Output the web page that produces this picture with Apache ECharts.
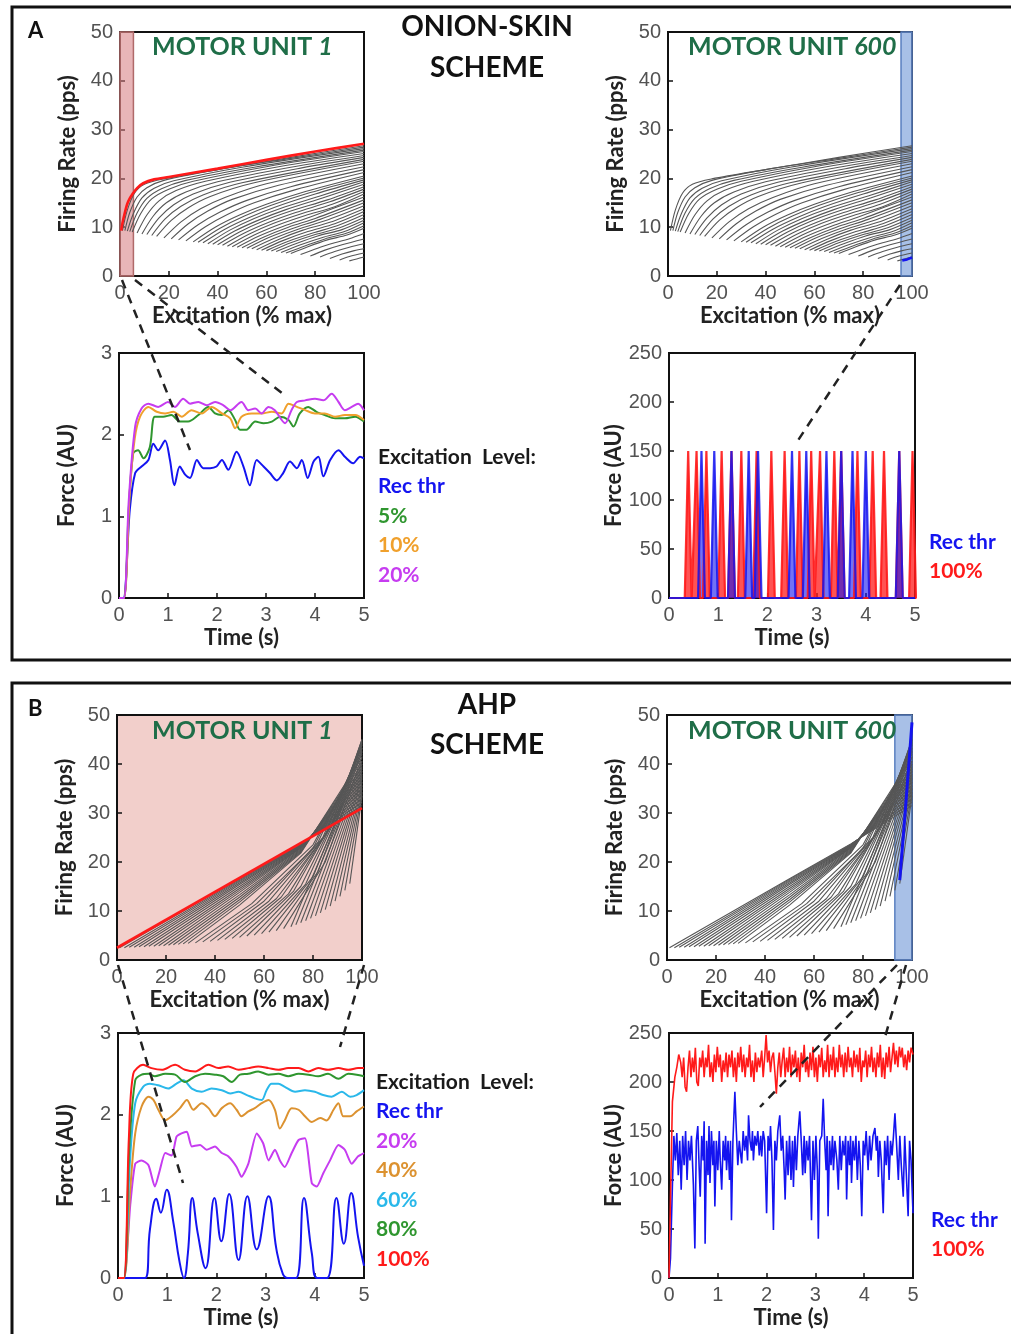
<!DOCTYPE html>
<html>
<head>
<meta charset="utf-8">
<script src="https://cdn.jsdelivr.net/npm/echarts@6/dist/echarts.min.js"></script>
<style>
  html, body { margin: 0; background: #fff; }
  #chart { width: 1011px; height: 1334px; }
</style>
</head>
<body>
<div id="chart"></div>
<script>
// ---- firing-rate families, [excitation %, pps] ----
// onion-skin scheme (panel A), one curve per recruited unit
const osCurves = [
  [[1,9.3],[3,13.5],[6,17],[10,18.8],[18,19.9],[40,21.8],[70,24.3],[100,26.7]],
  [[2,9.3],[4,13],[7,16.2],[11,18.1],[18,19.6],[40,21.8],[70,24.1],[100,26.4]],
  [[3,9.2],[5.5,12.8],[9,16],[14,18],[22,19.5],[50,22.3],[100,26.1]],
  [[4,9.1],[7,12.9],[11,15.9],[17,17.9],[27,19.6],[55,22.3],[100,25.8]],
  [[5,9],[8.5,12.8],[13,15.8],[20,17.8],[30,19.4],[60,22.4],[100,25.5]],
  [[7,8.8],[11,12.5],[16,15.4],[23,17.5],[35,19.4],[65,22.4],[100,25.1]],
  [[9,8.6],[13.5,12.2],[19,15],[27,17.2],[40,19.3],[70,22.3],[100,24.7]],
  [[11,8.5],[16,11.9],[22,14.6],[30,16.8],[45,19.2],[75,22.2],[100,24.3]],
  [[13,8.3],[18.5,11.7],[25,14.3],[34,16.6],[50,19.1],[100,23.9]],
  [[15,8.1],[21,11.4],[28,14],[37,16.3],[55,19.1],[100,23.5]],
  [[18,7.8],[25,11.1],[33,13.8],[43,16.1],[60,18.9],[100,23]],
  [[21,7.6],[28,10.7],[36,13.3],[46,15.7],[65,18.6],[100,22.4]],
  [[24,7.4],[32,10.5],[41,13.1],[52,15.5],[70,18.3],[100,21.8]],
  [[27,7.2],[35,10.1],[44,12.6],[55,15],[72,17.7],[100,21.2]],
  [[30,7],[39,10],[49,12.5],[60,14.7],[76,17.3],[100,20.5]],
  [[32,6.9],[41,9.8],[51,12.3],[62,14.5],[78,17.1],[100,20.1]],
  [[34,6.8],[43,9.6],[53,12],[64,14.2],[80,16.8],[100,19.7]],
  [[36,6.6],[45,9.4],[55,11.8],[66,13.9],[82,16.4],[100,19.3]],
  [[38,6.5],[47,9.2],[57,11.5],[68,13.6],[83,16],[100,18.8]],
  [[40,6.4],[49,9],[59,11.3],[70,13.3],[85,15.6],[100,18.3]],
  [[42,6.3],[51,8.8],[61,11],[72,13],[86,15.2],[100,17.8]],
  [[44,6.1],[53,8.6],[63,10.8],[74,12.7],[87,14.7],[100,17.3]],
  [[46,6],[55,8.4],[65,10.5],[76,12.4],[88,14.2],[100,16.8]],
  [[48,5.9],[57,8.2],[67,10.2],[78,12.1],[100,16.2]],
  [[50,5.8],[59,8],[69,10],[80,11.8],[100,15.6]],
  [[52,5.7],[61,7.9],[71,9.8],[82,11.6],[100,15]],
  [[54,5.6],[63,7.7],[73,9.6],[84,11.3],[100,14.4]],
  [[56,5.4],[65,7.5],[75,9.4],[86,11],[100,13.8]],
  [[58,5.3],[67,7.3],[77,9.1],[88,10.7],[100,13.2]],
  [[60,5.2],[69,7.1],[79,8.8],[89,10.3],[100,12.6]],
  [[62,5.1],[70,6.8],[80,8.5],[90,9.9],[100,12]],
  [[64,5],[72,6.6],[81,8.2],[91,9.5],[100,11.4]],
  [[66,4.8],[74,6.4],[83,7.9],[92,9.1],[100,10.9]],
  [[68,4.7],[76,6.2],[84,7.6],[93,8.8],[100,10.3]],
  [[70,4.6],[77,6],[85,7.4],[93,8.4],[100,9.8]],
  [[74,4.4],[81,5.7],[88,6.8],[95,7.8],[100,8.7]],
  [[78,4.1],[84,5.3],[91,6.4],[100,7.6]],
  [[82,3.9],[88,5],[94,5.9],[100,6.6]],
  [[86,3.6],[91,4.5],[96,5.2],[100,5.6]],
  [[90,3.3],[94,4],[100,4.7]],
  [[94,3.1],[97,3.5],[100,3.9]]
];
const osMU1 = [[0.5,9.3],[1,10.8],[2,13],[3,14.8],[4,15.9],[5,16.7],[7,18],[9.5,19],[14,19.8],[20,20.3],[40,22],[60,23.8],[80,25.5],[100,27.1]];
const osMU600 = [[96,3.2],[98,3.4],[100,3.8]];

// AHP scheme (panel B)
const ahpCurves = [
  [[1,2.5],[50,16.6],[75,23.7],[100,31.5]],
  [[3,2.5],[50,16.4],[75,23.6],[100,32.2]],
  [[5,2.6],[50,16.2],[75,23.5],[100,32.9]],
  [[7,2.6],[50,16],[75,23.4],[100,33.6]],
  [[9,2.7],[50,15.7],[75,23.3],[100,34.3]],
  [[11,2.7],[50,15.4],[75,23.2],[100,35]],
  [[13,2.8],[50,15],[75,23.1],[100,35.7]],
  [[15,2.8],[50,14.6],[75,23],[100,36.4]],
  [[17,2.9],[50,14.2],[75,22.9],[100,37.1]],
  [[19,2.9],[50,13.8],[75,22.8],[100,37.8]],
  [[21,3],[50,13.3],[75,22.6],[100,38.5]],
  [[23,3.1],[50,12.8],[75,22.4],[100,39.2]],
  [[25,3.2],[50,12.3],[75,22.2],[100,39.9]],
  [[27,3.3],[50,11.8],[75,22],[100,40.6]],
  [[29,3.4],[50,11.2],[75,21.8],[100,41.3]],
  [[32,3.5],[55,11.5],[80,23.5],[100,42]],
  [[35,3.7],[57,11.5],[80,22.8],[100,42.7]],
  [[38,3.8],[60,12],[82,24],[100,43.3]],
  [[41,4],[62,12],[84,25],[100,43.8]],
  [[44,4.2],[65,12.5],[85,25.5],[100,44.3]],
  [[47,4.4],[67,12.8],[87,27],[100,44.7]],
  [[50,4.6],[70,13.5],[88,28],[100,45]],
  [[53,4.9],[72,14],[90,30],[100,45]],
  [[56,5.1],[75,15],[91,31],[100,44.5]],
  [[59,5.4],[77,15.5],[92,32],[100,44]],
  [[62,5.7],[80,17],[93,33],[100,43.2]],
  [[65,6],[82,18],[94,34],[100,42.5]],
  [[68,6.4],[85,20],[100,41.5]],
  [[71,6.8],[100,40.5]],
  [[73,7.2],[100,40]],
  [[75,7.6],[100,39.5]],
  [[77,8],[100,39]],
  [[79,8.5],[100,38.5]],
  [[81,9],[100,38]],
  [[83,9.6],[100,37.5]],
  [[85,10.3],[100,37]],
  [[87,11],[100,36.3]],
  [[89,12],[100,35.6]],
  [[91,13],[100,35]],
  [[93,14.2],[100,34.2]],
  [[95,15.6],[100,33.5]]
];
const ahpMU1 = [[0,2.5],[100,31]];
const ahpMU600 = [[95,16.3],[97.5,32],[100,48.5]];

// ---- force traces, [time s, force AU] ----
const a3Rec = [[0,0],[0.09,0],[0.22,1.08],[0.33,1.53],[0.46,1.61],[0.6,1.69],[0.7,1.89],[0.8,1.81],[0.94,1.93],[1.04,1.69],[1.13,1.38],[1.24,1.61],[1.35,1.51],[1.45,1.47],[1.59,1.69],[1.72,1.59],[1.86,1.59],[1.99,1.61],[2.1,1.69],[2.23,1.57],[2.4,1.79],[2.54,1.61],[2.67,1.38],[2.81,1.69],[2.95,1.61],[3.08,1.53],[3.22,1.44],[3.35,1.53],[3.49,1.67],[3.63,1.59],[3.73,1.69],[3.85,1.47],[3.97,1.67],[4.07,1.73],[4.17,1.49],[4.31,1.69],[4.48,1.81],[4.61,1.73],[4.78,1.65],[4.92,1.73],[5,1.71]];
const a3P5 = [[0,0],[0.1,0],[0.2,1.1],[0.29,1.77],[0.39,1.81],[0.5,1.71],[0.63,1.85],[0.73,2.22],[0.9,2.22],[1.07,2.24],[1.24,2.16],[1.41,2.16],[1.62,2.24],[1.82,2.34],[1.96,2.26],[2.1,2.24],[2.23,2.3],[2.37,2.18],[2.47,2.06],[2.6,2.06],[2.78,2.16],[2.95,2.14],[3.12,2.16],[3.29,2.22],[3.46,2.18],[3.56,2.1],[3.69,2.26],[3.86,2.34],[4.03,2.28],[4.2,2.24],[4.41,2.2],[4.61,2.2],[4.82,2.22],[5,2.16]];
const a3P10 = [[0,0],[0.1,0],[0.22,1.3],[0.32,1.95],[0.43,2.22],[0.6,2.34],[0.77,2.28],[0.94,2.26],[1.11,2.28],[1.28,2.22],[1.48,2.3],[1.69,2.26],[1.89,2.34],[2.1,2.26],[2.27,2.2],[2.37,2.08],[2.5,2.22],[2.71,2.26],[2.91,2.26],[3.12,2.28],[3.32,2.26],[3.46,2.38],[3.63,2.34],[3.8,2.3],[4,2.26],[4.2,2.26],[4.41,2.22],[4.61,2.24],[4.82,2.24],[5,2.18]];
const a3P20 = [[0,0],[0.1,0],[0.2,1.2],[0.33,2.1],[0.46,2.32],[0.6,2.38],[0.8,2.34],[1,2.4],[1.14,2.34],[1.31,2.44],[1.45,2.38],[1.62,2.4],[1.79,2.36],[1.96,2.4],[2.13,2.36],[2.27,2.3],[2.5,2.4],[2.64,2.3],[2.78,2.32],[2.91,2.26],[3.05,2.34],[3.18,2.3],[3.39,2.14],[3.52,2.3],[3.63,2.4],[3.8,2.42],[4,2.44],[4.17,2.42],[4.34,2.5],[4.48,2.4],[4.61,2.3],[4.75,2.34],[4.88,2.38],[5,2.3]];

// twitch peak times (s) and peak force, onion-skin MU600
const a4RecSpikes = [0.66,0.92,1.27,1.62,1.81,2.5,2.79,3.2,3.5,3.73,4.0,4.68];
const a4FullSpikes = [0.39,0.56,0.76,1.07,1.27,1.47,1.78,2.08,2.35,2.65,2.89,3.07,3.36,3.5,3.83,4.14,4.37,4.68,4.95];
const a4Peak = 150;

const b3Rec = [[0,0],[0.55,0],[0.65,0.6],[0.78,0.97],[0.87,0.8],[0.99,1.08],[1.12,0.7],[1.25,0.2],[1.34,0],[1.42,0.3],[1.51,0.98],[1.62,0.55],[1.78,0.12],[1.96,0.98],[2.1,0.45],[2.26,1.03],[2.45,0.22],[2.63,1.0],[2.82,0.35],[3.06,1.0],[3.22,0.35],[3.35,0.05],[3.45,0],[3.62,0],[3.78,0.98],[3.94,0.3],[4.05,0],[4.25,0],[4.44,0.98],[4.59,0.42],[4.74,1.04],[4.88,0.5],[5,0.15]];
const b3P20 = [[0,0],[0.12,0],[0.25,0.9],[0.35,1.4],[0.48,1.44],[0.62,1.38],[0.75,1.12],[0.85,1.32],[0.96,1.53],[1.09,1.5],[1.19,1.73],[1.29,1.77],[1.4,1.79],[1.5,1.61],[1.67,1.63],[1.8,1.57],[1.97,1.61],[2.11,1.53],[2.24,1.49],[2.41,1.36],[2.51,1.24],[2.65,1.4],[2.82,1.77],[2.95,1.65],[3.06,1.44],[3.19,1.57],[3.29,1.44],[3.39,1.36],[3.53,1.53],[3.67,1.69],[3.8,1.71],[3.94,1.16],[4.04,1.12],[4.17,1.28],[4.31,1.44],[4.48,1.63],[4.61,1.57],[4.75,1.4],[4.88,1.49],[5,1.53]];
const b3P40 = [[0,0],[0.12,0],[0.25,1.1],[0.35,1.77],[0.48,2.1],[0.62,2.22],[0.72,2.18],[0.82,2.06],[0.96,1.93],[1.09,1.98],[1.26,2.08],[1.4,2.18],[1.53,2.06],[1.7,2.14],[1.84,2.08],[1.97,1.98],[2.11,2.08],[2.28,2.14],[2.41,2.06],[2.51,1.98],[2.65,2.04],[2.78,2.08],[2.92,2.14],[3.06,2.18],[3.19,2.06],[3.29,1.83],[3.39,1.93],[3.53,2.08],[3.67,2.06],[3.8,1.98],[3.94,1.91],[4.11,1.96],[4.24,1.93],[4.38,2.06],[4.48,2.14],[4.58,1.98],[4.72,1.98],[4.85,2.04],[5,2.1]];
const b3P60 = [[0,0],[0.12,0],[0.24,1.4],[0.35,2.14],[0.51,2.34],[0.65,2.38],[0.82,2.36],[1.02,2.32],[1.19,2.38],[1.33,2.42],[1.5,2.32],[1.7,2.28],[1.9,2.32],[2.11,2.3],[2.28,2.26],[2.45,2.28],[2.62,2.24],[2.78,2.2],[2.92,2.18],[3.02,2.3],[3.12,2.38],[3.26,2.38],[3.39,2.34],[3.6,2.28],[3.8,2.3],[4,2.28],[4.17,2.24],[4.34,2.22],[4.55,2.28],[4.72,2.22],[4.85,2.24],[5,2.3]];
const b3P80 = [[0,0],[0.12,0],[0.23,1.6],[0.35,2.42],[0.48,2.49],[0.62,2.5],[0.75,2.47],[0.96,2.5],[1.16,2.49],[1.36,2.4],[1.57,2.47],[1.77,2.5],[1.97,2.49],[2.14,2.47],[2.31,2.4],[2.48,2.49],[2.65,2.5],[2.85,2.53],[3.06,2.49],[3.26,2.5],[3.46,2.47],[3.67,2.5],[3.87,2.49],[4.07,2.47],[4.27,2.5],[4.48,2.44],[4.68,2.5],[4.85,2.49],[5,2.47]];
const b3P100 = [[0,0],[0.12,0],[0.22,1.7],[0.31,2.5],[0.51,2.61],[0.68,2.57],[0.89,2.55],[1.16,2.61],[1.36,2.55],[1.57,2.53],[1.84,2.61],[2.04,2.57],[2.24,2.59],[2.45,2.55],[2.65,2.57],[2.85,2.59],[3.06,2.57],[3.26,2.55],[3.46,2.57],[3.67,2.57],[3.87,2.53],[4.07,2.57],[4.27,2.55],[4.48,2.57],[4.68,2.55],[4.88,2.57],[5,2.57]];

const b4Rec = [[0,0],[0.03,20],[0.07,95],[0.1,145],[0.13,120],[0.16,148],[0.19,105],[0.22,140],[0.25,90],[0.28,145],[0.31,115],[0.34,150],[0.37,100],[0.4,140],[0.43,120],[0.46,145],[0.5,95],[0.53,30],[0.56,140],[0.59,155],[0.62,110],[0.64,83],[0.67,145],[0.7,120],[0.72,160],[0.74,35],[0.77,140],[0.8,105],[0.82,155],[0.84,97],[0.87,150],[0.9,115],[0.92,140],[0.94,73],[0.97,140],[1,110],[1.03,150],[1.05,120],[1.08,90],[1.11,140],[1.14,120],[1.16,145],[1.18,110],[1.21,140],[1.24,100],[1.26,140],[1.28,59],[1.31,140],[1.35,190],[1.38,150],[1.41,115],[1.44,140],[1.47,125],[1.49,117],[1.52,150],[1.55,130],[1.58,145],[1.61,120],[1.63,166],[1.66,140],[1.69,130],[1.71,150],[1.73,120],[1.76,145],[1.79,135],[1.82,150],[1.85,125],[1.88,145],[1.9,124],[1.93,150],[1.96,140],[2,66],[2.03,145],[2.06,130],[2.08,155],[2.11,120],[2.14,49],[2.17,140],[2.2,120],[2.23,150],[2.27,166],[2.3,130],[2.33,145],[2.36,110],[2.38,80],[2.41,140],[2.44,105],[2.47,145],[2.5,100],[2.53,140],[2.55,93],[2.58,145],[2.61,110],[2.64,145],[2.68,170],[2.71,140],[2.74,105],[2.77,145],[2.79,107],[2.82,140],[2.85,120],[2.88,145],[2.92,59],[2.95,140],[2.98,100],[3.01,145],[3.04,110],[3.06,40],[3.09,140],[3.13,145],[3.16,183],[3.19,140],[3.22,110],[3.24,145],[3.26,63],[3.29,140],[3.32,115],[3.35,145],[3.37,110],[3.4,140],[3.44,120],[3.47,90],[3.5,145],[3.53,110],[3.56,140],[3.59,125],[3.62,145],[3.64,80],[3.67,140],[3.7,115],[3.72,145],[3.74,97],[3.77,140],[3.8,120],[3.83,145],[3.86,100],[3.89,140],[3.92,115],[3.95,63],[3.98,140],[4.01,125],[4.04,150],[4.08,110],[4.11,145],[4.14,120],[4.18,145],[4.22,153],[4.25,130],[4.27,145],[4.29,103],[4.32,140],[4.35,120],[4.39,66],[4.42,140],[4.45,115],[4.48,145],[4.51,100],[4.54,140],[4.57,125],[4.6,145],[4.63,168],[4.66,140],[4.7,100],[4.73,145],[4.76,115],[4.8,83],[4.83,145],[4.86,110],[4.9,63],[4.93,140],[4.96,120],[5,66]];
const b4Full = [[0,0],[0.03,80],[0.07,180],[0.12,205],[0.16,215],[0.2,228],[0.24,220],[0.27,205],[0.3,225],[0.33,195],[0.36,190],[0.39,215],[0.42,232],[0.45,205],[0.48,225],[0.51,210],[0.54,235],[0.57,200],[0.6,196],[0.63,225],[0.66,215],[0.69,232],[0.72,205],[0.75,225],[0.78,215],[0.81,238],[0.84,205],[0.87,220],[0.9,200],[0.93,228],[0.96,210],[0.99,236],[1.02,215],[1.05,228],[1.08,200],[1.11,222],[1.14,210],[1.17,230],[1.2,205],[1.23,228],[1.26,215],[1.29,232],[1.32,205],[1.35,225],[1.38,200],[1.41,230],[1.44,215],[1.47,236],[1.5,210],[1.53,228],[1.56,205],[1.59,225],[1.62,215],[1.65,238],[1.68,205],[1.71,222],[1.74,200],[1.77,230],[1.8,210],[1.83,225],[1.86,215],[1.9,232],[1.93,205],[1.96,225],[1.99,248],[2.02,220],[2.05,232],[2.08,210],[2.11,225],[2.14,230],[2.17,210],[2.2,188],[2.23,215],[2.26,230],[2.29,205],[2.32,222],[2.35,235],[2.38,205],[2.41,225],[2.44,210],[2.47,236],[2.5,205],[2.53,228],[2.56,215],[2.59,232],[2.62,205],[2.65,225],[2.68,200],[2.71,230],[2.74,215],[2.77,238],[2.8,210],[2.83,222],[2.86,205],[2.89,230],[2.92,212],[2.95,236],[2.98,205],[3.01,225],[3.04,200],[3.07,228],[3.1,215],[3.13,235],[3.16,205],[3.19,222],[3.22,210],[3.25,238],[3.28,205],[3.31,228],[3.34,212],[3.37,236],[3.4,205],[3.43,225],[3.46,210],[3.49,238],[3.52,215],[3.55,228],[3.58,205],[3.61,230],[3.64,210],[3.67,236],[3.7,215],[3.73,225],[3.76,205],[3.79,232],[3.82,215],[3.85,228],[3.88,210],[3.91,235],[3.94,200],[3.97,222],[4,215],[4.03,232],[4.06,205],[4.09,228],[4.12,215],[4.15,236],[4.18,210],[4.21,225],[4.24,205],[4.27,230],[4.3,215],[4.33,238],[4.36,205],[4.39,225],[4.42,203],[4.45,230],[4.48,215],[4.51,236],[4.54,210],[4.57,225],[4.6,240],[4.63,218],[4.66,232],[4.69,215],[4.72,236],[4.75,225],[4.78,235],[4.81,215],[4.84,228],[4.87,212],[4.9,232],[4.93,220],[4.96,235],[5,228]];

// ---- styling ----
const numFont = 'Liberation Sans';
const txtFont = 'Lato';
const C = {
  gray: '#565656', red: '#ff1a1a', blue: '#1414f0', green: '#2f962f',
  orange: '#f0a02c', magenta: '#c63cf0', cyan: '#2ab8ea', orange2: '#dc9230',
  mu: '#1f6e48'
};

// grid boxes: A1, A2, A3, A4, B1, B2, B3, B4
const boxes = [
  [120, 32, 244, 244], [668, 32, 244, 244], [119, 353, 245, 245], [669, 353, 246, 245],
  [117, 715, 245, 245], [667, 715, 245, 245], [118, 1033, 246, 245], [669, 1033, 244, 245]
];
const grids = boxes.map((b, i) => ({
  left: b[0], top: b[1], width: b[2], height: b[3], containLabel: false,
  show: true, borderColor: '#111', borderWidth: 2,
  backgroundColor: i === 4 ? '#f2cfcb' : 'transparent'
}));

function xAx(gi, max, interval, name) {
  return {
    gridIndex: gi, type: 'value', min: 0, max, interval, name,
    nameLocation: 'middle', nameGap: 29,
    nameTextStyle: { fontFamily: txtFont, fontWeight: 'bold', fontSize: 22, color: '#222' },
    axisLine: { onZero: false, lineStyle: { color: '#111', width: 2 } },
    axisTick: { inside: true, length: 5, lineStyle: { color: '#111', width: 1.5 } },
    axisLabel: { margin: 7, fontFamily: numFont, fontSize: 20, color: '#525252' },
    splitLine: { show: false }
  };
}
function yAx(gi, max, interval, name) {
  return {
    gridIndex: gi, type: 'value', min: 0, max, interval, name,
    nameLocation: 'middle', nameGap: 41, nameRotate: 90,
    nameTextStyle: { fontFamily: txtFont, fontWeight: 'bold', fontSize: 22, color: '#222' },
    axisLine: { onZero: false, lineStyle: { color: '#111', width: 2 } },
    axisTick: { inside: true, length: 5, lineStyle: { color: '#111', width: 1.5 } },
    axisLabel: { margin: 7, fontFamily: numFont, fontSize: 20, color: '#525252' },
    splitLine: { show: false }
  };
}
const xAxes = [
  xAx(0, 100, 20, 'Excitation (% max)'), xAx(1, 100, 20, 'Excitation (% max)'),
  xAx(2, 5, 1, 'Time (s)'), xAx(3, 5, 1, 'Time (s)'),
  xAx(4, 100, 20, 'Excitation (% max)'), xAx(5, 100, 20, 'Excitation (% max)'),
  xAx(6, 5, 1, 'Time (s)'), xAx(7, 5, 1, 'Time (s)')
];
const yAxes = [
  yAx(0, 50, 10, 'Firing Rate (pps)'), yAx(1, 50, 10, 'Firing Rate (pps)'),
  yAx(2, 3, 1, 'Force (AU)'), yAx(3, 250, 50, 'Force (AU)'),
  yAx(4, 50, 10, 'Firing Rate (pps)'), yAx(5, 50, 10, 'Firing Rate (pps)'),
  yAx(6, 3, 1, 'Force (AU)'), yAx(7, 250, 50, 'Force (AU)')
];

function line(gi, data, color, width, extra) {
  return Object.assign({
    type: 'line', xAxisIndex: gi, yAxisIndex: gi, data, symbol: 'none',
    silent: true, lineStyle: { color, width }
  }, extra || {});
}
function family(gi, curves, smooth) {
  return curves.map(c => line(gi, c, C.gray, 1.1, { smooth, z: 2 }));
}
function band(from, to, fill, edge) {
  return {
    silent: true,
    itemStyle: { color: fill, borderColor: edge, borderWidth: 1.5 },
    data: [[{ xAxis: from }, { xAxis: to }]]
  };
}
// spike train built from read-off peak times
function spikes(times, peak) {
  const d = [[0, 0]];
  times.forEach(t => { d.push([t - 0.07, 0], [t, peak], [t + 0.07, 0]); });
  d.push([5, 0]);
  return d;
}

const series = [
  ...family(0, osCurves, 0.3),
  line(0, osMU1, C.red, 2.6, { smooth: 0.3, z: 4, markArea: band(0, 5.5, 'rgba(214,120,126,0.55)', '#b06a6a') }),
  ...family(1, osCurves, 0.3),
  line(1, osMU600, C.blue, 2.6, { z: 4, markArea: band(95.5, 100, 'rgba(110,150,215,0.6)', '#5a7fc0') }),
  line(2, a3Rec, C.blue, 2, { smooth: 0.3 }),
  line(2, a3P5, C.green, 2, { smooth: 0.3 }),
  line(2, a3P10, C.orange, 2, { smooth: 0.3 }),
  line(2, a3P20, C.magenta, 2, { smooth: 0.3 }),
  line(3, spikes(a4FullSpikes, a4Peak), C.red, 2.2, {
    lineStyle: { color: C.red, width: 2.2, opacity: 0.9 }, areaStyle: { color: C.red, opacity: 0.75 }
  }),
  line(3, spikes(a4RecSpikes, a4Peak), C.blue, 2.2, {
    lineStyle: { color: C.blue, width: 2.2, opacity: 0.85 }, areaStyle: { color: C.blue, opacity: 0.6 }
  }),
  ...family(4, ahpCurves, false),
  line(4, ahpMU1, C.red, 2.6, { z: 4 }),
  ...family(5, ahpCurves, false),
  line(5, ahpMU600, C.blue, 3, { smooth: 0.3, z: 4, markArea: band(93, 100, 'rgba(110,150,215,0.6)', '#5a7fc0') }),
  line(6, b3Rec, C.blue, 2, { smooth: 0.45 }),
  line(6, b3P20, C.magenta, 2, { smooth: 0.2 }),
  line(6, b3P40, C.orange2, 2, { smooth: 0.3 }),
  line(6, b3P60, C.cyan, 2, { smooth: 0.3 }),
  line(6, b3P80, C.green, 2, { smooth: 0.3 }),
  line(6, b3P100, C.red, 2, { smooth: 0.3 }),
  line(7, b4Rec, C.blue, 1.6),
  line(7, b4Full, C.red, 1.6)
];

// ---- text and decoration ----
function txt(x, y, text, size, color, align) {
  return {
    type: 'text', x, y, z: 50, silent: true,
    style: {
      text, fill: color, font: 'bold ' + size + 'px ' + txtFont,
      align: align || 'left', verticalAlign: 'middle'
    }
  };
}
function mu(x, y, num) {
  return {
    type: 'text', x, y, z: 50, silent: true,
    style: {
      text: '{a|MOTOR UNIT }{b|' + num + '}', verticalAlign: 'middle',
      rich: {
        a: { fontFamily: txtFont, fontWeight: 'bold', fontSize: 25, fill: C.mu, color: C.mu },
        b: { fontFamily: txtFont, fontWeight: 'bold', fontStyle: 'italic', fontSize: 25, fill: C.mu, color: C.mu }
      }
    }
  };
}
function dash(x1, y1, x2, y2) {
  return {
    type: 'line', z: 60, silent: true, shape: { x1, y1, x2, y2 },
    style: { stroke: '#222', lineWidth: 2.5, lineDash: [9, 7] }
  };
}
function legend(x, y0, step, items) {
  return items.map((it, i) => txt(x, y0 + i * step, it[0], 21, it[1]));
}

const graphic = [
  { type: 'rect', z: 40, silent: true, shape: { x: 12, y: 7, width: 1010, height: 653 }, style: { fill: 'none', stroke: '#111', lineWidth: 3 } },
  { type: 'rect', z: 40, silent: true, shape: { x: 12, y: 683, width: 1010, height: 660 }, style: { fill: 'none', stroke: '#111', lineWidth: 3 } },
  txt(28, 31, 'A', 22, '#111'),
  txt(28, 709, 'B', 22, '#111'),
  txt(487, 27, 'ONION-SKIN', 28, '#111', 'center'),
  txt(487, 68, 'SCHEME', 28, '#111', 'center'),
  txt(487, 705, 'AHP', 28, '#111', 'center'),
  txt(487, 745, 'SCHEME', 28, '#111', 'center'),
  mu(152, 47, '1'), mu(688, 47, '600'), mu(152, 731, '1'), mu(688, 731, '600'),
  ...legend(378, 457, 29.5, [['Excitation  Level:', '#1a1a1a'], ['Rec thr', C.blue], ['5%', C.green], ['10%', C.orange], ['20%', C.magenta]]),
  ...legend(929, 542, 29, [['Rec thr', C.blue], ['100%', C.red]]),
  ...legend(376, 1082, 29.5, [['Excitation  Level:', '#1a1a1a'], ['Rec thr', C.blue], ['20%', C.magenta], ['40%', C.orange2], ['60%', C.cyan], ['80%', C.green], ['100%', C.red]]),
  ...legend(931, 1220, 29, [['Rec thr', C.blue], ['100%', C.red]]),
  dash(122, 280, 190, 450), dash(135, 280, 287, 397),
  dash(900, 285, 795, 445),
  dash(118, 965, 183, 1183), dash(364, 965, 340, 1047),
  dash(897, 965, 760, 1107), dash(906, 965, 885, 1037)
];

const chart = echarts.init(document.getElementById('chart'), null, { renderer: 'canvas' });
chart.setOption({
  animation: false,
  backgroundColor: '#fff',
  grid: grids,
  xAxis: xAxes,
  yAxis: yAxes,
  series,
  graphic
});
</script>
</body>
</html>
